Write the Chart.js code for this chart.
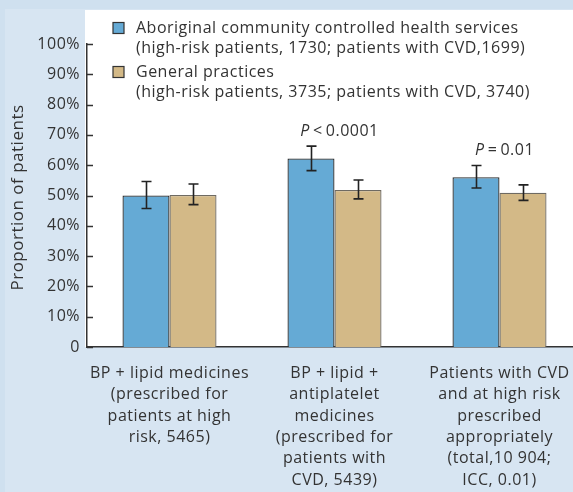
<!DOCTYPE html>
<html>
<head>
<meta charset="utf-8">
<script src="https://cdn.jsdelivr.net/npm/chart.js@4"></script>
<style>
  html, body { margin: 0; padding: 0; background: #cfe0ef; }
  #wrap { position: relative; width: 573px; height: 492px; overflow: hidden; }
  #chart { position: absolute; left: 0; top: 0; }
</style>
</head>
<body>
<div id="wrap"><canvas id="chart" width="600" height="492"></canvas></div>
<script>
// ─── DATOS ──────────────────────────────────────────────────────
const categories = [
  ["BP + lipid medicines", "(prescribed for", "patients at high", "risk, 5465)"],
  ["BP + lipid +", "antiplatelet", "medicines", "(prescribed for", "patients with", "CVD, 5439)"],
  ["Patients with CVD", "and at high risk", "prescribed", "appropriately", "(total,10 904;", "ICC, 0.01)"],
];
const acchsValues = [50.0, 62.2, 56.0];
const acchsLow    = [45.7, 58.2, 52.5];
const acchsHigh   = [54.6, 66.3, 59.9];
const gpValues    = [50.2, 51.8, 50.9];
const gpLow       = [47.0, 48.9, 48.4];
const gpHigh      = [53.8, 55.1, 53.5];
const pLabels     = [null, ["P", "\u2009<\u20090.0001"], ["P", "\u2009=\u20090.01"]];
const yTicks      = [0, 10, 20, 30, 40, 50, 60, 70, 80, 90, 100];
const legendItems = [
  ["Aboriginal community controlled health services", "(high-risk patients, 1730; patients with CVD,1699)"],
  ["General practices", "(high-risk patients, 3735; patients with CVD, 3740)"],
];

// ─── PALETA ─────────────────────────────────────────────────────
const C = {
  blue:   "#65aad5",
  tan:    "#d3b987",
  text:   "#333333",
  axis:   "#333333",
  panel:  "#d7e5f2",
};
const FONT = "'Open Sans', sans-serif";
const SPACING = "0.5px";

const decor = {
  id: "decor",
  beforeUpdate(chart) { chart.ctx.letterSpacing = SPACING; },
  beforeDraw(chart) {
    const { ctx, chartArea } = chart;
    ctx.letterSpacing = SPACING;
    ctx.save();
    ctx.fillStyle = C.panel;
    ctx.fillRect(5, 9, chart.width, chart.height);
    ctx.fillStyle = "#ffffff";
    ctx.fillRect(85, 10, chart.width, chartArea.bottom - 10);
    ctx.restore();
  },
  afterDatasetsDraw(chart) {
    const { ctx, chartArea } = chart;
    const x = chart.scales.x, y = chart.scales.y;
    ctx.save();

    // ticks hacia dentro
    ctx.strokeStyle = C.axis;
    ctx.lineWidth = 1.5;
    yTicks.forEach(v => {
      const py = Math.round(y.getPixelForValue(v)) + 0.5;
      ctx.beginPath();
      ctx.moveTo(chartArea.left, py);
      ctx.lineTo(chartArea.left + 6, py);
      ctx.stroke();
    });

    // barras de error
    ctx.strokeStyle = "#222";
    ctx.lineWidth = 1.6;
    [[0, acchsLow, acchsHigh], [1, gpLow, gpHigh]].forEach(([di, lo, hi]) => {
      chart.getDatasetMeta(di).data.forEach((bar, i) => {
        const bx = Math.round(bar.x) + 0.5;
        const y1 = y.getPixelForValue(hi[i]), y2 = y.getPixelForValue(lo[i]);
        ctx.beginPath();
        ctx.moveTo(bx, y1); ctx.lineTo(bx, y2);
        ctx.moveTo(bx - 5, y1); ctx.lineTo(bx + 5, y1);
        ctx.moveTo(bx - 5, y2); ctx.lineTo(bx + 5, y2);
        ctx.stroke();
      });
    });

    // valores P
    ctx.fillStyle = C.text;
    ctx.textBaseline = "middle";
    pLabels.forEach((p, i) => {
      if (!p) return;
      const cx = x.getPixelForValue(i) + 5;
      const top = y.getPixelForValue(acchsHigh[i]);
      ctx.font = "italic 16px " + FONT;
      const w1 = ctx.measureText(p[0]).width;
      ctx.font = "16px " + FONT;
      const w2 = ctx.measureText(p[1]).width;
      const sx = cx - (w1 + w2) / 2;
      const py = top - 15;
      ctx.font = "italic 16px " + FONT;
      ctx.textAlign = "left";
      ctx.fillText(p[0], sx, py);
      ctx.font = "16px " + FONT;
      ctx.fillText(p[1], sx + w1, py);
    });

    // leyenda
    const colors = [C.blue, C.tan];
    const tops = [22.5, 66.5];
    ctx.font = "16px " + FONT;
    ctx.textAlign = "left";
    legendItems.forEach((lines, i) => {
      ctx.fillStyle = colors[i];
      ctx.fillRect(113, tops[i], 11, 11);
      ctx.strokeStyle = "#333";
      ctx.lineWidth = 1.2;
      ctx.strokeRect(113, tops[i], 11, 11);
      ctx.fillStyle = C.text;
      lines.forEach((t, j) => ctx.fillText(t, 136, tops[i] + 5.5 + j * 20.5));
    });

    // título del eje Y
    ctx.translate(18, (chartArea.top + chartArea.bottom) / 2 + 2);
    ctx.rotate(-Math.PI / 2);
    ctx.textAlign = "center";
    ctx.font = "17px " + FONT;
    ctx.fillText("Proportion of patients", 0, 0);
    ctx.restore();
  },
};

new Chart(document.getElementById("chart"), {
  type: "bar",
  data: {
    labels: categories,
    datasets: [
      { label: legendItems[0][0], data: acchsValues, backgroundColor: C.blue,
        borderColor: "#2a2a2a", borderWidth: 1.3, borderSkipped: "bottom" },
      { label: legendItems[1][0], data: gpValues, backgroundColor: C.tan,
        borderColor: "#6e6a62", borderWidth: 1.3, borderSkipped: "bottom" },
    ],
  },
  options: {
    responsive: false,
    animation: false,
    categoryPercentage: 0.57,
    barPercentage: 1.0,
    layout: { padding: { top: 44, right: 18, bottom: 0, left: 0 } },
    plugins: { legend: { display: false }, tooltip: { enabled: false } },
    scales: {
      x: {
        grid: { display: false, drawTicks: false },
        border: { color: C.axis, width: 1.5 },
        ticks: { color: C.text, padding: 16, maxRotation: 0,
                 font: { family: FONT, size: 16, lineHeight: 1.33 } },
        afterFit(s) { s.height = 145; },
      },
      y: {
        min: 0, max: 100,
        grid: { display: false, drawTicks: false },
        border: { color: C.axis, width: 1.5 },
        ticks: { stepSize: 10, color: C.text, padding: 7,
                 font: { family: FONT, size: 16 },
                 callback: v => v === 0 ? "0" : v + "%" },
        afterFit(s) { s.width = 87; },
      },
    },
  },
  plugins: [decor],
});
</script>
</body>
</html>
